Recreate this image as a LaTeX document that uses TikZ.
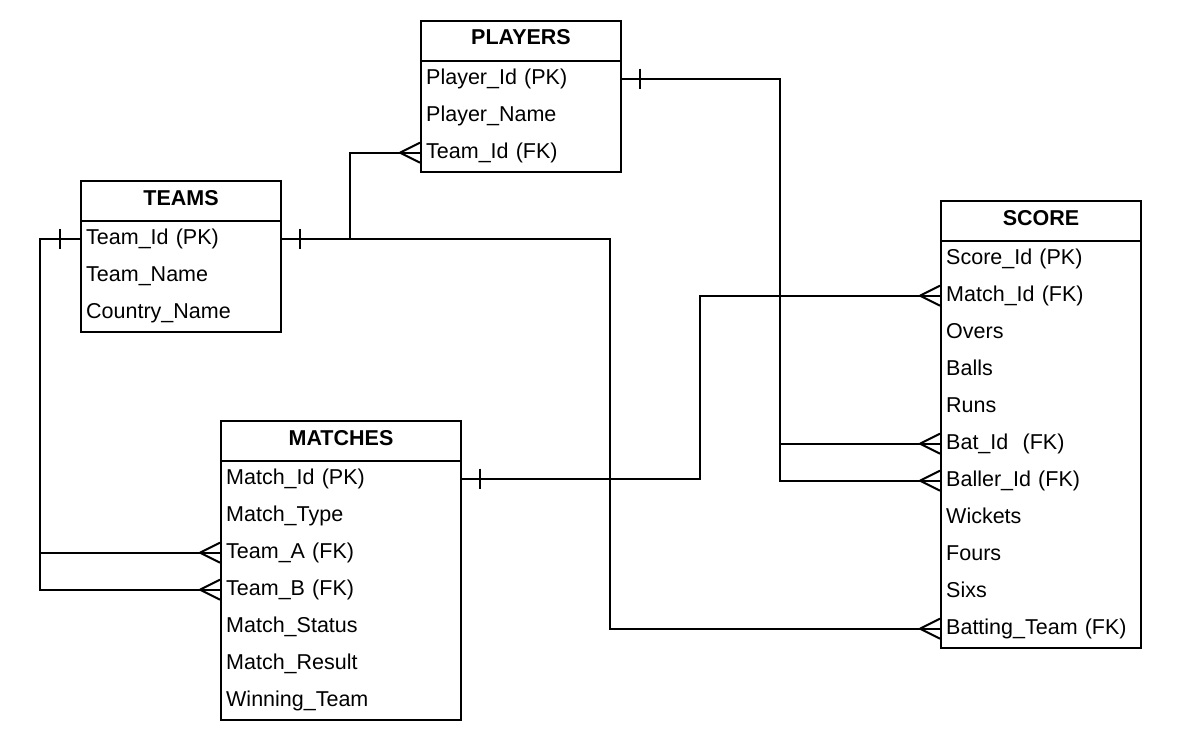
\documentclass[tikz,border=0pt]{standalone}
\usepackage{fontspec}
\setmainfont{Liberation Sans}
\newcommand\crowW[1]{\draw[conn] (#1.west) ++(-20,0) -- ++(20,-10) (#1.west) ++(-20,0) -- ++(20,10);}
\newcommand\barE[1]{\draw[conn] (#1.east) ++(20,-10) -- ++(0,20);}
\newcommand\barW[1]{\draw[conn] (#1.west) ++(-20,-10) -- ++(0,20);}
\begin{document}
\begin{tikzpicture}[x=1pt,y=-1pt,font=\fontsize{21.5}{26}\selectfont]
\tikzset{
  ebox/.style={draw, line width=2pt, anchor=north west, inner sep=0pt},
  hdr/.style={ebox, minimum height=40pt, font=\fontsize{21.5}{26}\selectfont\bfseries, text height=16pt, text depth=8pt},
  rw/.style={anchor=north west, minimum height=37pt, inner xsep=6pt, inner ysep=0pt, text height=16pt, text depth=5pt, align=left},
  conn/.style={line width=2pt, line join=miter},
}
\useasboundingbox (0,0) rectangle (1191,749);
\fill[white] (0,0) rectangle (1191,749);
% PLAYERS
\node[hdr, minimum width=200pt] (Ph) at (420,20) {PLAYERS};
\node[ebox, minimum width=200pt, minimum height=111pt] (Pb) at (420,60) {};
\foreach \t [count=\i] in {Player\_Id (PK), Player\_Name, Team\_Id (FK)}
  \node[rw, text width=188pt] (p\i) at (420,23+37*\i) {\t};
% TEAMS
\node[hdr, minimum width=200pt] (Th) at (80,180) {TEAMS};
\node[ebox, minimum width=200pt, minimum height=111pt] (Tb) at (80,220) {};
\foreach \t [count=\i] in {Team\_Id (PK), Team\_Name, Country\_Name}
  \node[rw, text width=188pt] (t\i) at (80,183+37*\i) {\t};
% MATCHES
\node[hdr, minimum width=240pt] (Mh) at (220,420) {MATCHES};
\node[ebox, minimum width=240pt, minimum height=259pt] (Mb) at (220,460) {};
\foreach \t [count=\i] in {Match\_Id (PK), Match\_Type, Team\_A (FK), Team\_B (FK), Match\_Status, Match\_Result, Winning\_Team}
  \node[rw, text width=228pt] (m\i) at (220,423+37*\i) {\t};
% SCORE
\node[hdr, minimum width=200pt] (Sh) at (940,200) {SCORE};
\node[ebox, minimum width=200pt, minimum height=407pt] (Sb) at (940,240) {};
\foreach \t [count=\i] in {Score\_Id (PK), Match\_Id (FK), Overs, Balls, Runs, Bat\_Id~ (FK), Baller\_Id (FK), Wickets, Fours, Sixs, Batting\_Team (FK)}
  \node[rw, text width=188pt] (s\i) at (940,203+37*\i) {\t};
% connectors
\draw[conn] (t1.east) -- ++(70,0) |- ([xshift=-20pt]p3.west) -- (p3.west);
\draw[conn] (t1.east) -- ++(330,0) |- (s11.west);
\draw[conn] (t1.west) -- ++(-40,0) |- (m3.west);
\draw[conn] (t1.west) -- ++(-40,0) |- (m4.west);
\draw[conn] (m1.east) -- ++(240,0) |- (s2.west);
\draw[conn] (p1.east) -- ++(160,0) |- (s6.west);
\draw[conn] (p1.east) -- ++(160,0) |- (s7.west);
% ends
\crowW{p3}
\crowW{m3}
\crowW{m4}
\crowW{s2}
\crowW{s6}
\crowW{s7}
\crowW{s11}
\barE{t1}
\barW{t1}
\barE{m1}
\barE{p1}
\end{tikzpicture}
\end{document}
